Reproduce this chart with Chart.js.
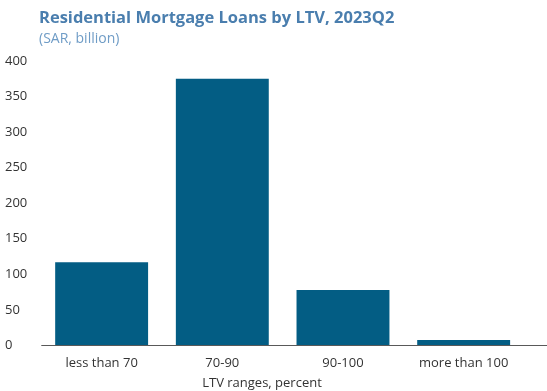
<!DOCTYPE html>
<html>
<head>
<meta charset="utf-8">
<script src="https://cdn.jsdelivr.net/npm/chart.js@4.4.0/dist/chart.umd.min.js"></script>
<style>
  html, body { margin: 0; padding: 0; background: #fff; }
  #wrap { width: 547px; height: 391px; }
</style>
</head>
<body>
<div id="wrap"><canvas id="myChart"></canvas></div>
<script>
// LTV buckets and outstanding loans (SAR bn)
const categories = ['less than 70', '70-90', '90-100', 'more than 100'];
const loanValues = [117, 375, 78, 7.5];
const yTicks = [0, 50, 100, 150, 200, 250, 300, 350, 400];

const titleText = 'Residential Mortgage Loans by LTV, 2023Q2';
const subtitleText = '(SAR, billion)';
const xTitleText = 'LTV ranges, percent';

const fontFamily = '"Open Sans", "Noto Sans", sans-serif';

// titles, axis caption and the long baseline drawn by hand
const decorPlugin = {
    id: 'decor',
    afterDraw(chart) {
        const ctx = chart.ctx
        const area = chart.chartArea
        const y0 = chart.scales.y.getPixelForValue(0)
        ctx.save()
        ctx.strokeStyle = '#595959'
        ctx.lineWidth = 1
        ctx.beginPath()
        ctx.moveTo(area.left, Math.round(y0) + 0.5)
        ctx.lineTo(chart.width, Math.round(y0) + 0.5)
        ctx.stroke()

        ctx.textBaseline = 'middle'
        ctx.textAlign = 'left'
        ctx.fillStyle = '#4a7eae'
        ctx.font = 'bold 16.5px ' + fontFamily
        ctx.fillText(titleText, 39, 18)
        ctx.fillStyle = '#6f9cc6'
        ctx.font = '14px ' + fontFamily
        ctx.fillText(subtitleText, 39, 39)

        ctx.textAlign = 'center'
        ctx.fillStyle = '#333333'
        ctx.font = '13px ' + fontFamily
        ctx.fillText(xTitleText, 262, 383)
        ctx.restore()
    }
}

const ctx = document.getElementById('myChart')
const chart = new Chart(ctx, {
    type: 'bar',
    data: {
        labels: categories,
        datasets: [{
            data: loanValues,
            backgroundColor: '#035d84',
            borderWidth: 0,
            categoryPercentage: 1,
            barPercentage: 0.77
        }]
    },
    options: {
        responsive: true,
        maintainAspectRatio: false,
        animation: false,
        layout: { padding: { left: 5, right: 23, top: 61, bottom: 10 } },
        plugins: {
            legend: { display: false },
            tooltip: { enabled: false }
        },
        scales: {
            x: {
                grid: { display: false, drawTicks: false },
                border: { display: false },
                ticks: {
                    padding: 10,
                    color: '#333333',
                    font: { family: fontFamily, size: 13 }
                }
            },
            y: {
                min: 0,
                max: 400,
                afterBuildTicks(scale) {
                    scale.ticks = yTicks.map(v => ({ value: v }))
                },
                grid: { display: false, drawTicks: false },
                border: { display: false },
                ticks: {
                    padding: 7,
                    crossAlign: 'far',
                    color: '#333333',
                    font: { family: fontFamily, size: 13 }
                }
            }
        }
    },
    plugins: [decorPlugin]
})
</script>
</body>
</html>
